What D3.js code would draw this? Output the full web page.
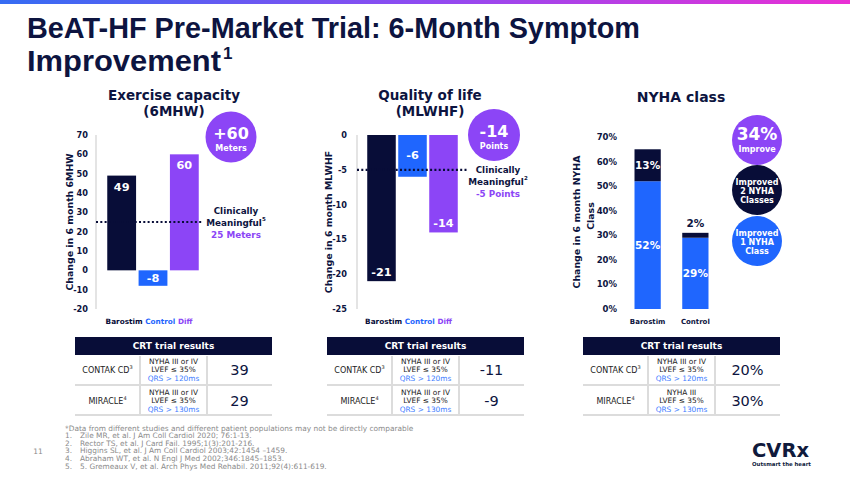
<!DOCTYPE html>
<html><head><meta charset="utf-8">
<script src="https://cdn.jsdelivr.net/npm/d3@7"></script>
<style>body{margin:0;background:#fff}svg{display:block}</style>
</head><body>
<svg id="c" width="850" height="478"></svg>
<script>
// ---------------- DATA ----------------
const titleLine1 = "BeAT-HF Pre-Market Trial: 6-Month Symptom";
const titleLine2 = "Improvement";
const titleSup = "1";

const exCategories = ["Barostim", "Control", "Diff"];
const exValues = [49, -8, 60];
const exTicks = [70, 60, 50, 40, 30, 20, 10, 0, -10, -20];
const exThreshold = 25;
const exThresholdLabel = ["Clinically", "Meaningful", "5", "25 Meters"];
const exBadge = ["+60", "Meters"];

const qolCategories = ["Barostim", "Control", "Diff"];
const qolValues = [-21, -6, -14];
const qolTicks = [0, -5, -10, -15, -20, -25];
const qolThreshold = -5;
const qolThresholdLabel = ["Clinically", "Meaningful", "2", "-5 Points"];
const qolBadge = ["-14", "Points"];

const nyhaCategories = ["Barostim", "Control"];
const nyhaImproved1 = [52, 29];
const nyhaImproved2 = [13, 2];
const nyhaTicks = [0, 10, 20, 30, 40, 50, 60, 70];
const nyhaBadges = [["34%", "Improve"], ["Improved", "2 NYHA", "Classes"], ["Improved", "1 NYHA", "Class"]];

const tableStudies = [["CONTAK CD", "3"], ["MIRACLE", "4"]];
const tableCriteria = [
  [["NYHA III or IV", "LVEF ≤ 35%", "QRS > 120ms"], ["NYHA III or IV", "LVEF ≤ 35%", "QRS > 130ms"]],
  [["NYHA III or IV", "LVEF ≤ 35%", "QRS > 120ms"], ["NYHA III or IV", "LVEF ≤ 35%", "QRS > 130ms"]],
  [["NYHA III or IV", "LVEF ≤ 35%", "QRS > 120ms"], ["NYHA III", "LVEF ≤ 35%", "QRS > 130ms"]]
];
const tableValues = [["39", "29"], ["-11", "-9"], ["20%", "30%"]];

const footnotes = [
  ["", "*Data from different studies and different patient populations may not be directly comparable"],
  ["1.", "Zile MR, et al.  J Am Coll Cardiol 2020; 76:1-13."],
  ["2.", "Rector TS, et al. J Card Fail. 1995;1(3):201-216."],
  ["3.", "Higgins SL, et al. J Am Coll Cardiol 2003;42:1454 –1459."],
  ["4.", "Abraham WT, et al. N Engl J Med 2002;346:1845–1853."],
  ["5.", "5. Gremeaux V, et al. Arch Phys Med Rehabil. 2011;92(4):611-619."]
];

// ---------------- STYLE ----------------
const NAVY = "#080d38", BLUE = "#1f66fe", PURPLE = "#8c45f6", TXT = "#0d1440";
const F = "'DejaVu Sans', Verdana, sans-serif";
const catColors = [NAVY, BLUE, PURPLE];

const svg = d3.select("#c");
const defs = svg.append("defs");
const g = defs.append("linearGradient").attr("id", "topg");
g.append("stop").attr("offset", "0%").attr("stop-color", "#356cf3");
g.append("stop").attr("offset", "50%").attr("stop-color", "#8f4af1");
g.append("stop").attr("offset", "100%").attr("stop-color", "#ea2fd4");
svg.append("rect").attr("x", 0).attr("y", 0).attr("width", 850).attr("height", 4).attr("fill", "url(#topg)");

// Title
const TF = "'Liberation Sans', Arial, sans-serif";
svg.append("text").attr("x", 27).attr("y", 38).attr("font-family", TF)
  .attr("font-weight", "bold").attr("font-size", 29).attr("fill", TXT)
  .attr("textLength", 613).attr("lengthAdjust", "spacingAndGlyphs").text(titleLine1);
svg.append("text").attr("x", 27).attr("y", 71).attr("font-family", TF)
  .attr("font-weight", "bold").attr("font-size", 29).attr("fill", TXT)
  .attr("textLength", 194).attr("lengthAdjust", "spacingAndGlyphs").text(titleLine2);
svg.append("text").attr("x", 223).attr("y", 59).attr("font-family", TF)
  .attr("font-weight", "bold").attr("font-size", 17).attr("fill", TXT).text(titleSup);

function txt(x, y, s, size, opts = {}) {
  return svg.append("text").attr("x", x).attr("y", y)
    .attr("font-family", F).attr("font-size", size)
    .attr("font-weight", opts.bold === false ? "normal" : "bold")
    .attr("fill", opts.fill || TXT)
    .attr("text-anchor", opts.anchor || "middle")
    .attr("dominant-baseline", "central").text(s);
}

function badge(cx, cy, r, color, lines, sizes, offs) {
  svg.append("circle").attr("cx", cx).attr("cy", cy).attr("r", r).attr("fill", color);
  lines.forEach((l, i) => txt(cx, cy + offs[i], l, sizes[i], { fill: "#fff" }));
}

function threshLabel(cx, y0, lines, step) {
  txt(cx, y0, lines[0], 8.8);
  const t = txt(cx, y0 + step, lines[1], 8.8);
  t.append("tspan").attr("font-size", 5.5).attr("dy", -4).text(lines[2]);
  txt(cx, y0 + 2 * step, lines[3], 8.8, { fill: PURPLE });
}

function barChart(c) {
  const y = d3.scaleLinear().domain(c.domain).range([309, c.top]);
  const x = d3.scaleBand().domain(c.cats).range(c.xRange).paddingInner(0.08).paddingOuter(0.04);
  svg.append("line").attr("x1", c.axisX).attr("x2", c.axisX).attr("y1", y(c.domain[1])).attr("y2", y(c.domain[0]))
    .attr("stroke", "#c9c9c9").attr("stroke-width", 1);
  c.ticks.forEach(t => txt(c.tickX, y(t), String(t), 8.2, { anchor: "end" }));
  c.cats.forEach((k, i) => {
    const v = c.values[i];
    const y0 = y(0), y1 = y(v);
    const top = Math.min(y0, y1), h = Math.abs(y1 - y0);
    svg.append("rect").attr("x", x(k)).attr("y", top).attr("width", x.bandwidth()).attr("height", h).attr("fill", catColors[i]);
    let ly;
    if (h < 50) ly = top + h / 2;
    else ly = v > 0 ? top + 11.5 : top + h - 9;
    txt(x(k) + x.bandwidth() / 2, ly, String(v), 11.3, { fill: "#fff" });
  });
  svg.append("line").attr("x1", c.axisX).attr("x2", c.lineEnd).attr("y1", y(c.threshold)).attr("y2", y(c.threshold))
    .attr("stroke", NAVY).attr("stroke-width", 2.2).attr("stroke-dasharray", "2,2.3");
  threshLabel(c.labelX, y(c.threshold) + c.labelOff, c.thLabel, 12);
  const r = x.range();
  const lt = svg.append("text").attr("x", (r[0] + r[1]) / 2 - 4).attr("y", 321).attr("font-family", F)
    .attr("font-size", 7.3).attr("font-weight", "bold").attr("text-anchor", "middle").attr("dominant-baseline", "central");
  c.cats.forEach((k, i) => lt.append("tspan").attr("fill", catColors[i]).text((i ? " " : "") + k));
  svg.append("text").attr("transform", `translate(${c.titleX},222) rotate(-90)`).attr("font-family", F)
    .attr("font-size", 9.4).attr("font-weight", "bold").attr("fill", TXT).attr("text-anchor", "middle")
    .attr("dominant-baseline", "central").text(c.yTitle);
  txt(c.headX, 95, c.head[0], 13.5);
  txt(c.headX, 111, c.head[1], 13.5);
}

barChart({
  cats: exCategories, values: exValues, domain: [-20, 70], top: 135, xRange: [106, 200],
  axisX: 96, tickX: 88, ticks: exTicks, threshold: exThreshold, lineEnd: 202,
  labelX: 236, labelOff: -11, thLabel: exThresholdLabel, titleX: 69,
  yTitle: "Change in 6 month 6MHW", headX: 174, head: ["Exercise capacity", "(6MHW)"]
});
badge(231, 137, 25.5, PURPLE, exBadge, [16, 8], [-4, 11]);

barChart({
  cats: qolCategories, values: qolValues, domain: [-25, 0], top: 135, xRange: [366, 459],
  axisX: 357, tickX: 347, ticks: qolTicks, threshold: qolThreshold, lineEnd: 468,
  labelX: 498, labelOff: 0, thLabel: qolThresholdLabel, titleX: 328,
  yTitle: "Change in 6 month MLWHF", headX: 430, head: ["Quality of life", "(MLWHF)"]
});
badge(494, 135, 26, PURPLE, qolBadge, [16, 8], [-4, 11]);

// NYHA chart
(function () {
  const y = d3.scaleLinear().domain([0, 70]).range([309, 137]);
  const x = d3.scaleBand().domain(nyhaCategories).range([624, 719]).paddingInner(0.45).paddingOuter(0.22);
  nyhaTicks.forEach(t => txt(617, y(t), t + "%", 8.5, { anchor: "end" }));
  nyhaCategories.forEach((k, i) => {
    const a = nyhaImproved1[i], b = nyhaImproved2[i];
    const cx = x(k) + x.bandwidth() / 2;
    svg.append("rect").attr("x", x(k)).attr("y", y(a)).attr("width", x.bandwidth()).attr("height", y(0) - y(a)).attr("fill", BLUE);
    svg.append("rect").attr("x", x(k)).attr("y", y(a + b)).attr("width", x.bandwidth()).attr("height", y(a) - y(a + b)).attr("fill", NAVY);
    txt(cx, (y(0) + y(a)) / 2, a + "%", 10.5, { fill: "#fff" });
    const hb = y(a) - y(a + b);
    if (hb > 16) txt(cx, (y(a) + y(a + b)) / 2, b + "%", 10.5, { fill: "#fff" });
    else txt(cx, y(a + b) - 10, b + "%", 10.5, { fill: TXT });
    txt(cx, 322, k, 7, {});
  });
  svg.append("text").attr("transform", "translate(576,222) rotate(-90)").attr("font-family", F)
    .attr("font-size", 9.4).attr("font-weight", "bold").attr("fill", TXT).attr("text-anchor", "middle")
    .attr("dominant-baseline", "central").text("Change in 6 month NYHA");
  svg.append("text").attr("transform", "translate(590,216) rotate(-90)").attr("font-family", F)
    .attr("font-size", 9.4).attr("font-weight", "bold").attr("fill", TXT).attr("text-anchor", "middle")
    .attr("dominant-baseline", "central").text("Class");
  txt(681, 97, "NYHA class", 14);
  const bc = [PURPLE, NAVY, BLUE], by = [140, 190, 241];
  nyhaBadges.forEach((lines, i) => {
    if (lines.length === 2) badge(757, by[i], 25, bc[i], lines, [17, 8], [-6, 9]);
    else badge(757, by[i], 25, bc[i], lines, [8, 8, 8], [-7.5, 1.5, 10.5]);
  });
})();

// Tables
const tableX = [75, 327, 583];
tableX.forEach((x0, ti) => {
  const w = 197, c1 = 65, c2 = 132;
  svg.append("rect").attr("x", x0).attr("y", 337).attr("width", w).attr("height", 18).attr("fill", NAVY);
  txt(x0 + w / 2, 346, "CRT trial results", 9, { fill: "#fff" });
  [c1, c2].forEach(cx => svg.append("line").attr("x1", x0 + cx).attr("x2", x0 + cx).attr("y1", 356).attr("y2", 415)
    .attr("stroke", "#dcdcdc").attr("stroke-width", 2));
  [385, 415].forEach(yy => svg.append("line").attr("x1", x0).attr("x2", x0 + w).attr("y1", yy).attr("y2", yy)
    .attr("stroke", "#dcdcdc").attr("stroke-width", 2));
  tableStudies.forEach((s, ri) => {
    const cy = 370 + ri * 31;
    const t = txt(x0 + c1 / 2, cy, s[0], 8, { bold: false, fill: "#222" });
    t.append("tspan").attr("font-size", 5).attr("dy", -3).text(s[1]);
    tableCriteria[ti][ri].forEach((l, li) => txt(x0 + (c1 + c2) / 2, cy - 9 + li * 8.8, l, 7.4,
      { bold: false, fill: li === 2 ? "#3d7cff" : "#222" }));
    txt(x0 + (c2 + w) / 2, cy, tableValues[ti][ri], 14.5, { bold: false, fill: TXT });
  });
});

// Footnotes
footnotes.forEach((f, i) => {
  const yy = 428 + i * 7.6;
  if (f[0] === "") txt(65, yy, f[1], 7.4, { bold: false, fill: "#8a8a8a", anchor: "start" });
  else {
    txt(65, yy, f[0], 7.4, { bold: false, fill: "#8a8a8a", anchor: "start" });
    txt(80, yy, f[1], 7.4, { bold: false, fill: "#8a8a8a", anchor: "start" });
  }
});
txt(38, 451, "11", 7.5, { bold: false, fill: "#8a8a8a" });

// Logo
txt(752, 450, "CVRx", 19.5, { anchor: "start", fill: "#101a3c" });
txt(752, 464, "Outsmart the heart", 5.4, { anchor: "start", fill: "#101a3c" });
</script>
</body></html>
